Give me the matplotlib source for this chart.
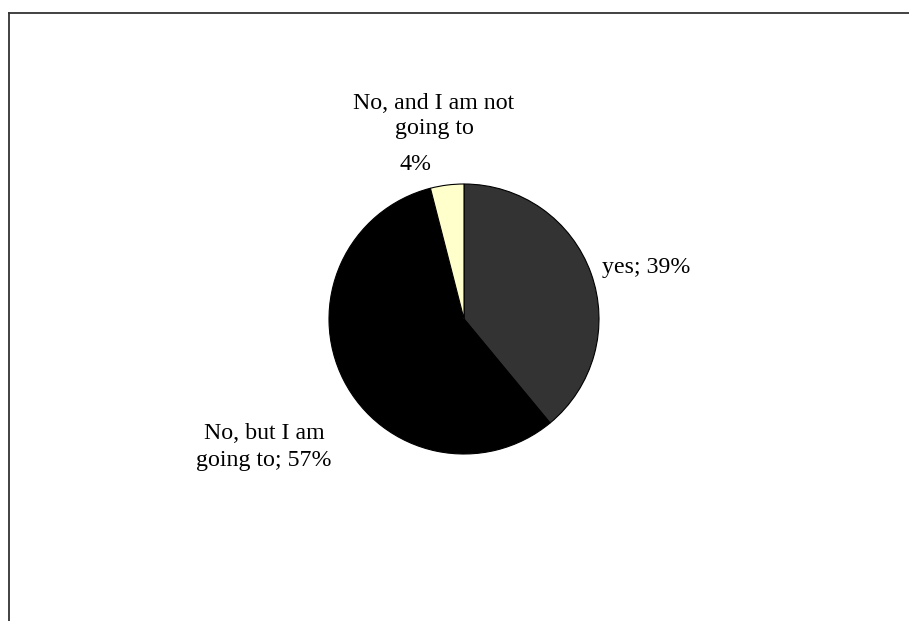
import matplotlib.pyplot as plt
from matplotlib.lines import Line2D

plt.rcParams['font.family'] = ['Liberation Serif', 'DejaVu Serif']

labels = ["yes", "No, but I am going to", "No, and I am not going to"]
shares = [39, 57, 4]
colors = ["#333333", "#000000", "#FFFFCC"]

W, H = 909, 621
fig = plt.figure(figsize=(W / 100, H / 100), dpi=100)
ax = fig.add_axes([0, 0, 1, 1])

ax.pie(shares, colors=colors, startangle=90, counterclock=False,
       center=(464, H - 319), radius=135,
       wedgeprops=dict(edgecolor="black", linewidth=0.8))
ax.set_xlim(0, W)
ax.set_ylim(0, H)
ax.set_aspect("equal")
ax.axis("off")

fs = 17.2
ax.text(602, H - 268, f"{labels[0]}; {shares[0]}%", fontsize=fs,
        ha="left", va="center")
ax.text(264, H - 447, "No, but I am\ngoing to; " + f"{shares[1]}%", fontsize=fs,
        ha="center", va="center", linespacing=1.38)
ax.text(434, H - 116, "No, and I am not\ngoing to", fontsize=fs,
        ha="center", va="center", linespacing=1.25)
ax.text(416, H - 164, f"{shares[2]}%", fontsize=fs, ha="center", va="center")

# chart area border (top and left edges visible)
fig.add_artist(Line2D([8.5 / W, 1], [1 - 13 / H, 1 - 13 / H],
                      transform=fig.transFigure, color="#333333", linewidth=1.3))
fig.add_artist(Line2D([8.5 / W, 8.5 / W], [0, 1 - 13 / H],
                      transform=fig.transFigure, color="#333333", linewidth=1.3))

fig.savefig("out.png", dpi=100)
